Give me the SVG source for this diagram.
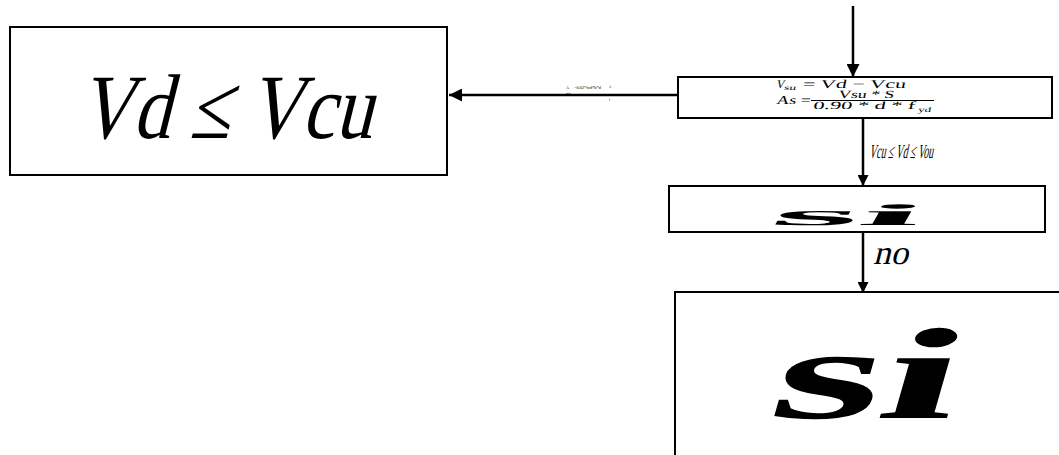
<svg xmlns="http://www.w3.org/2000/svg" width="1059" height="455" viewBox="0 0 1059 455">
<style>
.box{fill:#fff;stroke:#000;stroke-width:2}
.edge{stroke:#000;stroke-width:2.5;fill:none}
text{font-family:'Liberation Serif','Times New Roman',serif;fill:#000}
.bold{font-weight:bold}
</style>
<defs>
<marker id="ah" viewBox="0 0 10 10" refX="10" refY="5" markerWidth="15" markerHeight="13" markerUnits="userSpaceOnUse" orient="auto">
<path d="M0,0 L10,5 L0,10 z" fill="#000"/>
</marker>
<marker id="ahs" viewBox="0 0 10 10" refX="10" refY="5" markerWidth="12" markerHeight="11" markerUnits="userSpaceOnUse" orient="auto">
<path d="M0,0 L10,5 L0,10 z" fill="#000"/>
</marker>
</defs>

<g id="node-vd-le-vcu">
<rect class="box" x="10" y="27" width="437" height="148"/>
<text transform="translate(78,138) skewX(-14)" font-size="92" textLength="294" lengthAdjust="spacingAndGlyphs">Vd ≤ Vcu</text>
</g>

<g id="node-formulas">
<rect class="box" x="678" y="77" width="374" height="41"/>
<g transform="skewX(-12)">
<text x="794.5" y="88" font-size="12">V</text>
<text x="803" y="90.5" font-size="7" textLength="12" lengthAdjust="spacingAndGlyphs">su</text>
<text x="821" y="88" font-size="12" textLength="103" lengthAdjust="spacingAndGlyphs">= Vd − Vcu</text>
<text x="798" y="104" font-size="12" textLength="34" lengthAdjust="spacingAndGlyphs">As =</text>
<text x="858.5" y="98" font-size="11" textLength="56" lengthAdjust="spacingAndGlyphs">Vsu * S</text>
<text x="836" y="109.5" font-size="11" textLength="102" lengthAdjust="spacingAndGlyphs">0.90 * d * f</text>
<text x="941.5" y="112" font-size="7" textLength="13" lengthAdjust="spacingAndGlyphs">yd</text>
</g>
<line x1="811" y1="100.5" x2="934" y2="100.5" stroke="#000" stroke-width="1"/>
</g>

<g id="node-si-small">
<rect class="box" x="669" y="186" width="376" height="46"/>
<text class="bold" transform="translate(768,225) skewX(-30)" font-size="30" textLength="150" lengthAdjust="spacingAndGlyphs">si</text>
</g>

<g id="node-si-large">
<rect class="box" x="675" y="292" width="400" height="170"/>
<text class="bold" transform="translate(765,418) skewX(-16)" font-size="130" textLength="186" lengthAdjust="spacingAndGlyphs">si</text>
</g>

<g id="connectors">
<line class="edge" x1="853" y1="6" x2="853" y2="77" stroke-width="3" marker-end="url(#ah)"/>
<line class="edge" x1="678" y1="95" x2="449" y2="95" stroke-width="3" marker-end="url(#ah)"/>
<line class="edge" x1="863" y1="118" x2="863" y2="186" stroke-width="2" marker-end="url(#ahs)"/>
<line class="edge" x1="863" y1="232" x2="863" y2="293" stroke-width="2" marker-end="url(#ahs)"/>
<g style="fill:#888">
<text x="566" y="89" font-size="4">A</text>
<text x="566" y="95" font-size="3">min</text>
<text x="574" y="88.5" font-size="4" textLength="27" lengthAdjust="spacingAndGlyphs">=0.02*fcd*b*d</text>
<text x="609" y="88" font-size="3">A</text>
<text x="609" y="101" font-size="3">f</text>
</g>
<text transform="translate(869,158) skewX(-12)" font-size="20" textLength="64" lengthAdjust="spacingAndGlyphs">Vcu ≤ Vd ≤ Vou</text>
<text transform="translate(873,264) skewX(-14)" font-size="34" textLength="35" lengthAdjust="spacingAndGlyphs">no</text>
</g>
</svg>
